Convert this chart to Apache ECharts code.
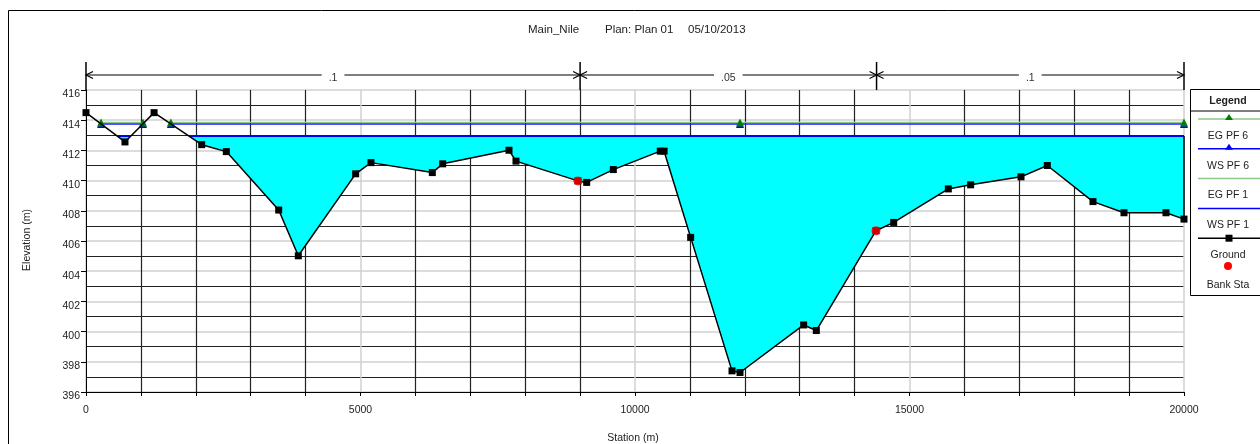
<!DOCTYPE html>
<html>
<head>
<meta charset="utf-8">
<title>Main_Nile cross section</title>
<script src="https://cdn.jsdelivr.net/npm/echarts@6/dist/echarts.min.js"></script>
<style>
html, body { margin: 0; padding: 0; background: #fff; }
#chart { width: 1260px; height: 444px; }
</style>
</head>
<body>
<div id="chart"></div>
<script>
// ground profile (station m / elevation m)
var groundSta  = [0, 710, 1240, 2107, 2556, 3510, 3867, 4912, 5191, 6308, 6497, 7705, 7832, 8960, 9120, 9605,
                  10460, 10530, 11014, 11767, 11913, 13072, 13303, 14390, 14712, 15707, 16114, 17031, 17510,
                  18342, 18907, 19672, 20000];
var groundElev = [414.50, 412.56, 414.50, 412.38, 411.92, 408.05, 405.02, 410.45, 411.19, 410.53, 411.11, 412.01,
                  411.29, 409.98, 409.88, 410.73, 411.95, 411.95, 406.24, 397.40, 397.29, 400.44, 400.07, 406.68,
                  407.23, 409.45, 409.72, 410.25, 411.00, 408.61, 407.87, 407.87, 407.45];

var bankSta  = [8960, 14390];
var bankElev = [409.98, 406.68];

// water surfaces / energy grade
var eg6Level = 413.85, ws6Level = 413.75;
var eg1Level = 412.98, ws1Level = 412.95;
var pf6Stations = [[274, 1038], [1546, 11913, 20000]];
var pf1Stations = [[570, 815], [1880, 20000]];

// manning's n ranges along the top
var nBreaks = [0, 9000, 14400, 20000];
var nValues = ['.1', '.05', '.1'];

var xMin = 0, xMax = 20000, xStep = 5000;
var yMin = 396, yMax = 416, yStep = 2;

function levelLine(reaches, level) {
    var out = [];
    reaches.forEach(function (r, k) {
        if (k > 0) out.push([(reaches[k - 1][reaches[k - 1].length - 1] + r[0]) / 2, '-']);
        r.forEach(function (s) { out.push([s, level]); });
    });
    return out;
}

var groundData = groundSta.map(function (s, i) { return [s, groundElev[i]]; });
var bankData = bankSta.map(function (s, i) { return [s, bankElev[i]]; });

function renderWater(params, api) {
    var L = ws1Level, kids = [];
    pf1Stations.forEach(function (r) {
        var a = r[0], b = r[r.length - 1];
        var pts = [api.coord([a, L])], endIdx = -1;
        for (var i = 0; i < groundSta.length; i++) {
            if (groundSta[i] > a && groundSta[i] <= b && groundElev[i] < L) {
                pts.push(api.coord([groundSta[i], groundElev[i]]));
                if (groundSta[i] === b) endIdx = i;
            }
        }
        pts.push(api.coord([b, L]));
        kids.push({ type: 'polygon', shape: { points: pts }, style: { fill: '#00ffff' } });
        if (endIdx >= 0) {
            var p0 = api.coord([b, groundElev[endIdx]]), p1 = api.coord([b, L]);
            kids.push({ type: 'line', shape: { x1: p0[0], y1: p0[1], x2: p1[0], y2: p1[1] },
                        style: { stroke: '#000', lineWidth: 1.5 } });
        }
    });
    return { type: 'group', children: kids };
}

function renderRoughness(params, api) {
    var kids = [];
    var yTop = api.coord([0, yMax])[1];
    var y0 = yTop - 28, yl = yTop - 15;
    var xs = nBreaks.map(function (s) { return api.coord([s, yMax])[0]; });
    xs.forEach(function (x) {
        kids.push({ type: 'line', shape: { x1: x, y1: y0, x2: x, y2: yTop }, style: { stroke: '#000', lineWidth: 1.5 } });
    });
    for (var i = 0; i < nValues.length; i++) {
        var x1 = xs[i], x2 = xs[i + 1];
        kids.push({ type: 'line', shape: { x1: x1, y1: yl, x2: x2, y2: yl }, style: { stroke: '#000', lineWidth: 1.2 } });
        kids.push({ type: 'polyline', shape: { points: [[x1 + 7, yl - 3.5], [x1, yl], [x1 + 7, yl + 3.5]] },
                    style: { stroke: '#000', lineWidth: 1.2, fill: null } });
        kids.push({ type: 'polyline', shape: { points: [[x2 - 7, yl - 3.5], [x2, yl], [x2 - 7, yl + 3.5]] },
                    style: { stroke: '#000', lineWidth: 1.2, fill: null } });
        kids.push({ type: 'text', x: (x1 + x2) / 2, y: yl + 3,
                    style: { text: nValues[i], fontSize: 10.5, fontFamily: 'Liberation Sans', fill: '#333',
                             align: 'center', verticalAlign: 'middle', backgroundColor: '#fff', padding: [0, 7] } });
    }
    return { type: 'group', children: kids };
}

// legend box drawn as graphics
var legendItems = [
    { name: 'EG PF 6', line: '#8cc88c', mark: 'tri', markColor: '#008000' },
    { name: 'WS PF 6', line: '#0000ff', mark: 'tri', markColor: '#0000ff' },
    { name: 'EG PF 1', line: '#8cc88c' },
    { name: 'WS PF 1', line: '#0000ff' },
    { name: 'Ground', line: '#000', mark: 'sq', markColor: '#000' },
    { name: 'Bank Sta', mark: 'dot', markColor: '#ff0000' }
];
var lg = [
    { type: 'rect', shape: { x: 1190.5, y: 89.5, width: 90, height: 206 }, style: { fill: '#fff', stroke: '#000', lineWidth: 1 } },
    { type: 'line', shape: { x1: 1190, y1: 111, x2: 1260, y2: 111 }, style: { stroke: '#000', lineWidth: 1 } },
    { type: 'text', x: 1228, y: 101, style: { text: 'Legend', fontSize: 10.5, fontWeight: 'bold', fontFamily: 'Liberation Sans',
        fill: '#222', align: 'center', verticalAlign: 'middle' } }
];
legendItems.forEach(function (it, i) {
    var ly = 119 + i * 29.8, ty = ly + 17;
    if (it.line) lg.push({ type: 'line', shape: { x1: 1198, y1: ly, x2: 1260, y2: ly }, style: { stroke: it.line, lineWidth: 1.5 } });
    if (it.mark === 'tri') lg.push({ type: 'polygon', shape: { points: [[1229, ly - 5], [1225, ly + 1], [1233, ly + 1]] }, style: { fill: it.markColor } });
    if (it.mark === 'sq') lg.push({ type: 'rect', shape: { x: 1225.5, y: ly - 3.5, width: 7, height: 7 }, style: { fill: it.markColor } });
    if (it.mark === 'dot') lg.push({ type: 'circle', shape: { cx: 1228, cy: ly - 2, r: 4 }, style: { fill: it.markColor } });
    lg.push({ type: 'text', x: 1228, y: ty, style: { text: it.name, fontSize: 10.5, fontFamily: 'Liberation Sans', fill: '#222',
        align: 'center', verticalAlign: 'middle' } });
});

var chart = echarts.init(document.getElementById('chart'));
var option = {
    animation: false,
    backgroundColor: '#fff',
    textStyle: { fontFamily: 'Liberation Sans' },
    grid: { left: 86, right: 76, top: 90, bottom: 52, outerBoundsMode: 'none' },
    xAxis: {
        type: 'value', min: xMin, max: xMax, interval: xStep,
        axisLine: { show: true, onZero: false, lineStyle: { color: '#000', width: 1 } },
        axisTick: { show: true, length: 4, lineStyle: { color: '#000' } },
        minorTick: { show: true, splitNumber: 5, length: 4, lineStyle: { color: '#000' } },
        axisLabel: { fontSize: 10.5, color: '#222', margin: 13, formatter: function (v) { return String(v); } },
        splitLine: { show: true, lineStyle: { color: '#d0d0d0', width: 1.5 } },
        minorSplitLine: { show: true, lineStyle: { color: '#222', width: 1.2 } }
    },
    yAxis: {
        type: 'value', min: yMin, max: yMax, interval: yStep,
        axisLine: { show: true, lineStyle: { color: '#000', width: 1 } },
        axisTick: { show: true, length: 5, lineStyle: { color: '#000' } },
        minorTick: { show: false, splitNumber: 2 },
        axisLabel: { fontSize: 10.5, color: '#222', margin: 6, verticalAlign: 'top', lineHeight: 9,
                     formatter: function (v) { return String(v); } },
        splitLine: { show: true, lineStyle: { color: '#d0d0d0', width: 1.5 } },
        minorSplitLine: { show: true, lineStyle: { color: '#222', width: 1.2 } }
    },
    graphic: [
        { type: 'rect', shape: { x: 8.5, y: 10.5, width: 1270, height: 450 }, style: { fill: null, stroke: '#000', lineWidth: 1 }, z: -1 },
        { type: 'text', x: 528, y: 30, style: { text: 'Main_Nile', fontSize: 11.5, fontFamily: 'Liberation Sans', fill: '#222', verticalAlign: 'middle' } },
        { type: 'text', x: 605, y: 30, style: { text: 'Plan: Plan 01', fontSize: 11.5, fontFamily: 'Liberation Sans', fill: '#222', verticalAlign: 'middle' } },
        { type: 'text', x: 688, y: 30, style: { text: '05/10/2013', fontSize: 11.5, fontFamily: 'Liberation Sans', fill: '#222', verticalAlign: 'middle' } },
        { type: 'text', x: 27, y: 240, rotation: Math.PI / 2,
          style: { text: 'Elevation (m)', fontSize: 10.5, fontFamily: 'Liberation Sans', fill: '#222', align: 'center', verticalAlign: 'middle' } },
        { type: 'text', x: 633, y: 438, style: { text: 'Station (m)', fontSize: 10.5, fontFamily: 'Liberation Sans', fill: '#222',
          align: 'center', verticalAlign: 'middle' } }
    ].concat(lg),
    series: [
        { name: 'water', type: 'custom', coordinateSystem: 'cartesian2d', renderItem: renderWater,
          data: [[xMin, yMin + 1]], z: 1, silent: true },
        { name: 'EG PF 6', type: 'line', data: levelLine(pf6Stations, eg6Level), z: 4,
          symbol: 'triangle', symbolSize: 8, showSymbol: true, itemStyle: { color: '#008000' },
          lineStyle: { color: '#8cc88c', width: 1.2 } },
        { name: 'WS PF 6', type: 'line', data: levelLine(pf6Stations, ws6Level), z: 3,
          symbol: 'triangle', symbolSize: 8, showSymbol: true, itemStyle: { color: '#0000ff' },
          lineStyle: { color: '#1a1aff', width: 1.5 } },
        { name: 'EG PF 1', type: 'line', data: levelLine(pf1Stations, eg1Level), z: 3, symbol: 'none',
          lineStyle: { color: '#8cc88c', width: 1.2 } },
        { name: 'WS PF 1', type: 'line', data: levelLine(pf1Stations, ws1Level), z: 3, symbol: 'none',
          lineStyle: { color: '#0000ff', width: 2 } },
        { name: 'Ground', type: 'line', data: groundData, z: 5,
          symbol: 'rect', symbolSize: 7, showSymbol: true, itemStyle: { color: '#000' },
          lineStyle: { color: '#000', width: 1.5 } },
        { name: 'Bank Sta', type: 'scatter', data: bankData, z: 6,
          symbol: 'circle', symbolSize: 9, itemStyle: { color: '#ff0000' } },
        { name: 'n values', type: 'custom', coordinateSystem: 'cartesian2d', renderItem: renderRoughness,
          data: [[xMin, yMin + 1]], z: 6, clip: false, silent: true }
    ]
};
chart.setOption(option);
</script>
</body>
</html>
